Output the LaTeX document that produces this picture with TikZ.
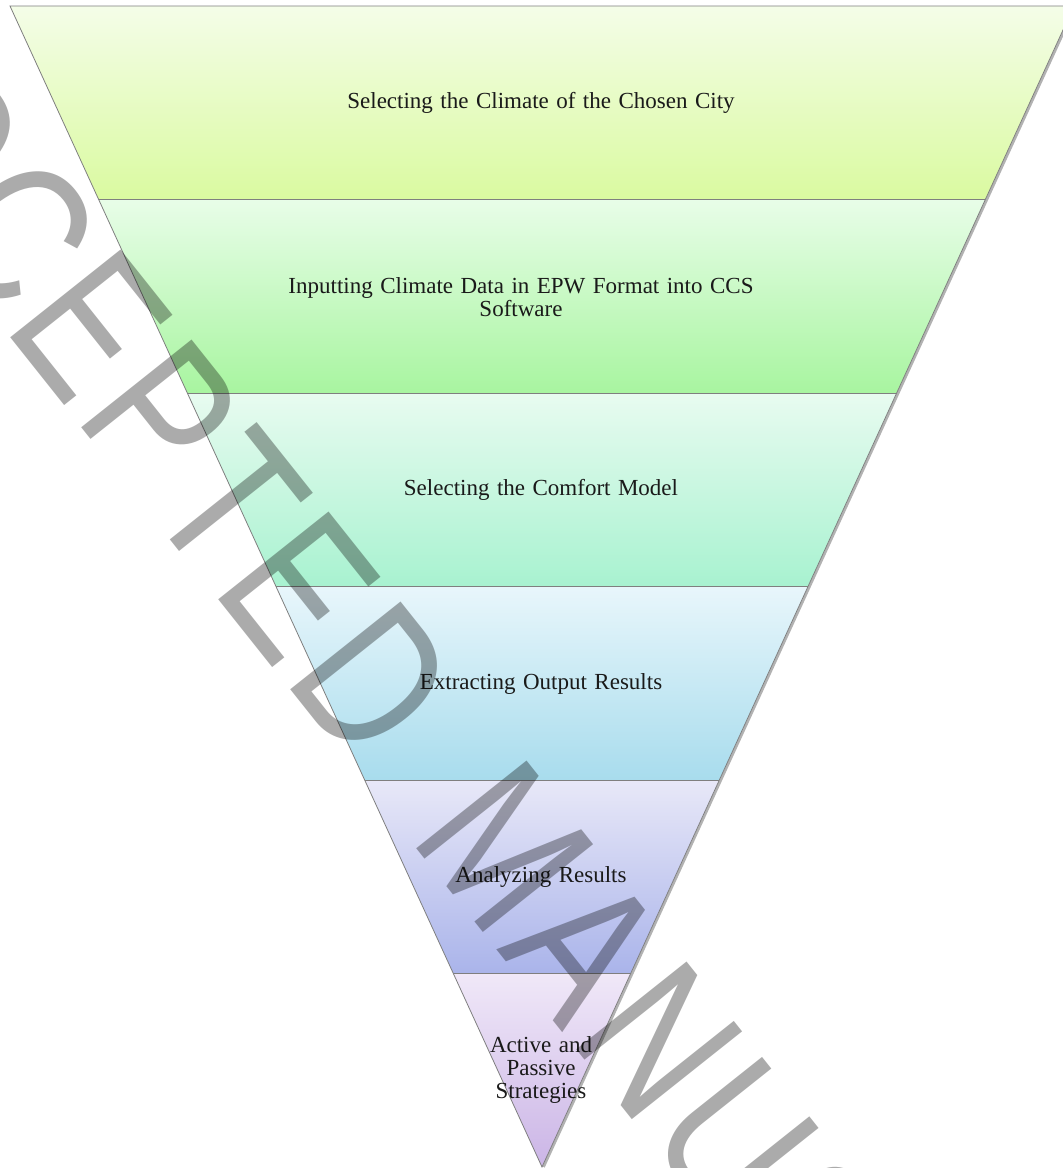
\documentclass[tikz,border=0pt]{standalone}
\usepackage{fontspec}
\setmainfont{Liberation Serif}[WordSpace=1.3]
\newfontfamily\wmfont{Liberation Sans}[LetterSpace=5]
\definecolor{bAt}{HTML}{F4FDE8}\definecolor{bAb}{HTML}{DAFAA0}
\definecolor{bBt}{HTML}{E8FDE8}\definecolor{bBb}{HTML}{A8F5A0}
\definecolor{bCt}{HTML}{E8FBF0}\definecolor{bCb}{HTML}{A8F2D0}
\definecolor{bDt}{HTML}{E8F6FB}\definecolor{bDb}{HTML}{A8DCED}
\definecolor{bEt}{HTML}{E8E8F8}\definecolor{bEb}{HTML}{AAB4EA}
\definecolor{bFt}{HTML}{F0E8F8}\definecolor{bFb}{HTML}{CBB5E6}
\definecolor{txt}{HTML}{1A1A1A}
\definecolor{edgegray}{HTML}{7F7F7F}
\begin{document}
\begin{tikzpicture}[x=1pt,y=-1pt,
  edge/.style={draw=edgegray,line width=0.8pt},
  label/.style={text=txt,align=center,inner sep=0pt,font=\fontsize{23}{23}\selectfont},
  wm/.style={text=black,text opacity=0.33,inner sep=0pt,font=\wmfont\fontsize{205}{205}\selectfont}]
\useasboundingbox (0,0) rectangle (1063,1168);
\clip (0,0) rectangle (1063,1168);
\fill[white] (0,0) rectangle (1063,1168);
% corner coordinates of the bands
\coordinate (L0) at (10,6);       \coordinate (R0) at (1074,6);
\coordinate (L1) at (98.67,199.5);  \coordinate (R1) at (985.33,199.5);
\coordinate (L2) at (187.33,393);   \coordinate (R2) at (896.67,393);
\coordinate (L3) at (276,586.5);    \coordinate (R3) at (808,586.5);
\coordinate (L4) at (364.67,780);   \coordinate (R4) at (719.33,780);
\coordinate (L5) at (453.33,973.5); \coordinate (R5) at (630.67,973.5);
\coordinate (A) at (542,1167);
% soft shadow on the right edge
\draw[black!30,line width=2.5pt] ([xshift=1.6pt]R0) -- ([xshift=1.6pt]A);
% bands
\shade[top color=bAt,bottom color=bAb] (L0)--(R0)--(R1)--(L1)--cycle;
\shade[top color=bBt,bottom color=bBb] (L1)--(R1)--(R2)--(L2)--cycle;
\shade[top color=bCt,bottom color=bCb] (L2)--(R2)--(R3)--(L3)--cycle;
\shade[top color=bDt,bottom color=bDb] (L3)--(R3)--(R4)--(L4)--cycle;
\shade[top color=bEt,bottom color=bEb] (L4)--(R4)--(R5)--(L5)--cycle;
\shade[top color=bFt,bottom color=bFb] (L5)--(R5)--(A)--cycle;
% outlines
\draw[edge] (L0)--(R0)--(A)--cycle;
\draw[edge] (L1)--(R1);
\draw[edge] (L2)--(R2);
\draw[edge] (L3)--(R3);
\draw[edge] (L4)--(R4);
\draw[edge] (L5)--(R5);
% labels
\node[label] (t1) at (541,103) {Selecting the Climate of the Chosen City};
\node[label] (t2) at (521,297) {Inputting Climate Data in EPW Format into CCS\\Software};
\node[label] (t3) at (541,490) {Selecting the Comfort Model};
\node[label] (t4) at (541,684) {Extracting Output Results};
\node[label] (t5) at (541,877) {Analyzing Results};
\node[label] (t6) at (541,1070) {Active and\\Passive\\Strategies};
% watermark
\node[wm,rotate=-51.5,anchor=base west] (wm) at (-223,44.6) {\scalebox{0.78}[1]{ACCEPTED\hspace{46pt} MANUSCRIPT}};
\end{tikzpicture}
\end{document}
